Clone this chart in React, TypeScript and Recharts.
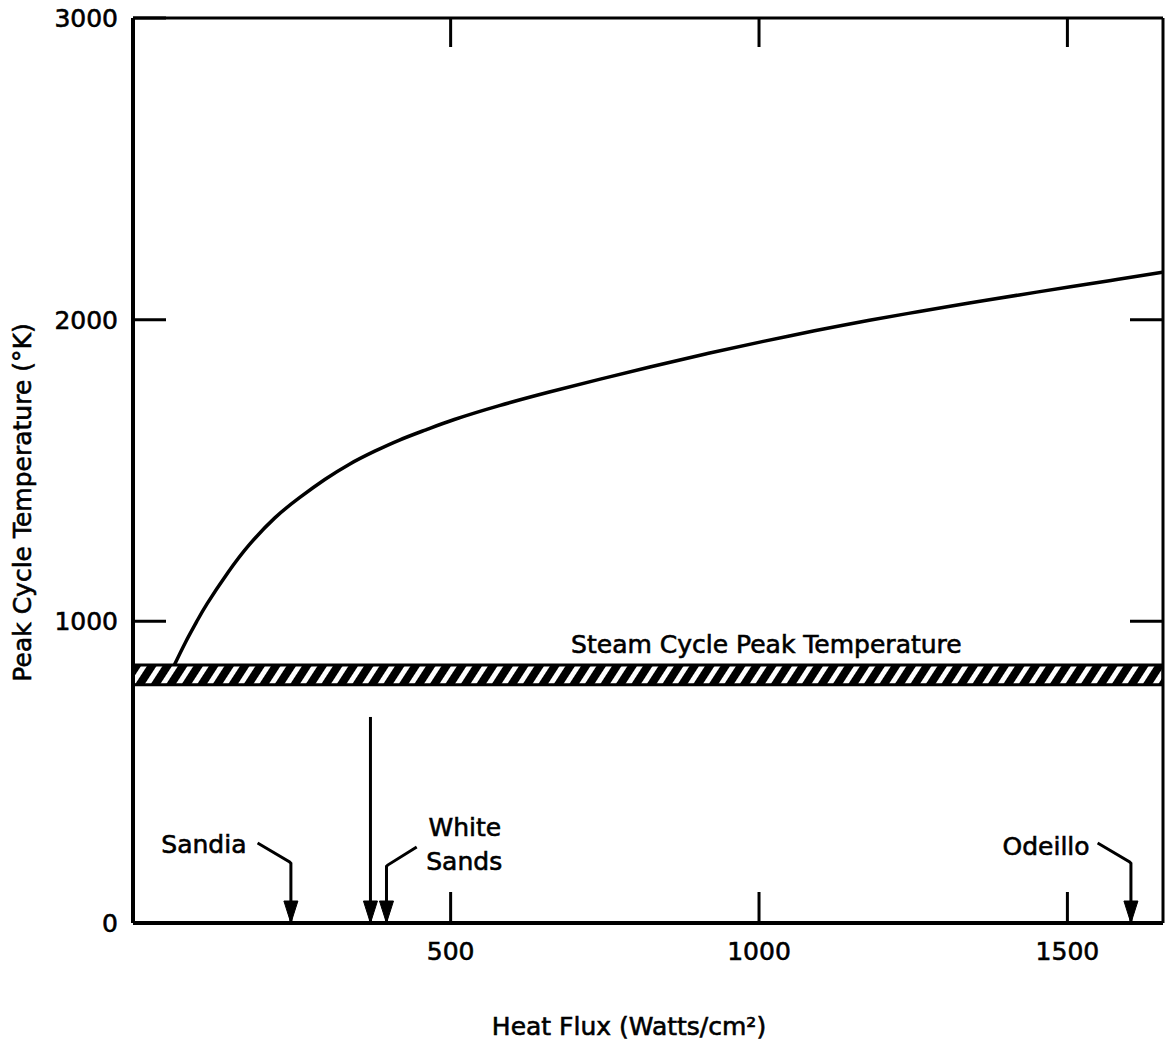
import React from 'react';
import { LineChart, Line, XAxis, YAxis, ReferenceArea, ReferenceDot, Label } from 'recharts';

// Peak cycle temperature curve
const curveFlux = [52, 70, 88, 105, 139, 174, 215, 255, 296, 336, 377, 417, 460, 506, 579, 660, 741, 823, 915, 1007, 1090, 1179, 1260, 1341, 1422, 1505, 1580, 1654];
const curveTemp = [855, 930, 998, 1058, 1162, 1255, 1343, 1410, 1470, 1521, 1564, 1601, 1635, 1669, 1715, 1760, 1802, 1843, 1887, 1928, 1963, 1998, 2027, 2055, 2082, 2109, 2133, 2157];

// Steam cycle peak temperature band
const steamLow = 790;
const steamHigh = 855;

// Axis ticks
const xTicks = [500, 1000, 1500];
const yTicks = [0, 1000, 2000, 3000];
const xDomain = [-15, 1655];
const yDomain = [0, 3000];

// Facility arrows: leader polylines ending at the arrow tip on the axis
const sandiaFlux = [187, 239, 241, 241];
const sandiaTemp = [265, 202, 198, 0];
const longFlux = [370, 370];
const longTemp = [683, 0];
const whiteSandsFlux = [445, 398, 396, 396];
const whiteSandsTemp = [252, 192, 188, 0];
const odeilloFlux = [1549, 1601, 1603, 1603];
const odeilloTemp = [265, 202, 198, 0];

// Annotation labels
const labelText = ['Sandia', 'White', 'Sands', 'Odeillo', 'Steam Cycle Peak Temperature'];
const labelFlux = [169, 523, 522, 1536, 1012];
const labelTemp = [259, 316, 205, 255, 922];
const labelAnchor = ['end', 'middle', 'middle', 'end', 'middle'];

const FONT = '"DejaVu Sans", Arial, sans-serif';
const TEXT_STROKE = 0.6;

const toPts = (xs: number[], ys: number[]) => xs.map((x, i) => ({ x, y: ys[i] }));

const curveData = toPts(curveFlux, curveTemp);
const arrows = [
  toPts(sandiaFlux, sandiaTemp),
  toPts(longFlux, longTemp),
  toPts(whiteSandsFlux, whiteSandsTemp),
  toPts(odeilloFlux, odeilloTemp),
];

const makeArrowDot = (lastIndex: number) => (props: any) => {
  const { cx, cy, index } = props;
  if (index !== lastIndex || cx == null || cy == null) return <g key={`d${index}`} />;
  return (
    <path
      key={`d${index}`}
      d={`M${cx},${cy} L${cx - 7},${cy - 22} L${cx + 7},${cy - 22} Z`}
      fill="#000"
      stroke="#000"
      strokeWidth={1}
    />
  );
};

const emptyTick = () => <g />;

const tickStyle = { fill: '#000', fontSize: 25, fontFamily: FONT, stroke: '#000', strokeWidth: TEXT_STROKE };

export default function App() {
  return (
    <div style={{ position: 'absolute', left: 0, top: 0, background: '#fff' }}>
      <LineChart width={1165} height={1043} margin={{ top: 0, right: 0, left: 0, bottom: 0 }}>
        <defs>
          <pattern id="hatch" width="13" height="13" patternUnits="userSpaceOnUse" patternTransform="rotate(33)">
            <rect x="0" y="0" width="13" height="13" fill="#000" />
            <rect x="0" y="0" width="5" height="13" fill="#fff" />
          </pattern>
        </defs>
        <XAxis
          xAxisId="b"
          type="number"
          dataKey="x"
          orientation="bottom"
          domain={xDomain}
          ticks={xTicks}
          allowDataOverflow
          height={120}
          tickSize={-31}
          tickMargin={50}
          axisLine={{ stroke: '#000', strokeWidth: 4 }}
          tickLine={{ stroke: '#000', strokeWidth: 3 }}
          tick={tickStyle}
        >
          <Label
            content={(p: any) => {
              const vb = p.viewBox || {};
              return (
                <text
                  x={vb.x + vb.width / 2 - 19}
                  y={vb.y + vb.height - 8}
                  textAnchor="middle"
                  fill="#000"
                  stroke="#000"
                  strokeWidth={TEXT_STROKE}
                  fontSize={25}
                  fontFamily={FONT}
                >
                  Heat Flux (Watts/cm²)
                </text>
              );
            }}
          />
        </XAxis>
        <XAxis
          xAxisId="t"
          type="number"
          dataKey="x"
          orientation="top"
          domain={xDomain}
          ticks={xTicks}
          allowDataOverflow
          height={18}
          tickSize={-29}
          axisLine={{ stroke: '#000', strokeWidth: 3 }}
          tickLine={{ stroke: '#000', strokeWidth: 3 }}
          tick={emptyTick}
        />
        <YAxis
          yAxisId="l"
          type="number"
          orientation="left"
          domain={yDomain}
          ticks={yTicks}
          allowDataOverflow
          width={133}
          tickSize={-33}
          tickMargin={48}
          axisLine={{ stroke: '#000', strokeWidth: 4 }}
          tickLine={{ stroke: '#000', strokeWidth: 3 }}
          tick={tickStyle}
        >
          <Label
            content={(p: any) => {
              const vb = p.viewBox || {};
              const cx = vb.x + 22;
              const cy = vb.y + vb.height / 2 + 32;
              return (
                <text
                  x={cx}
                  y={cy}
                  transform={`rotate(-90 ${cx} ${cy})`}
                  textAnchor="middle"
                  dominantBaseline="central"
                  fill="#000"
                  stroke="#000"
                  strokeWidth={TEXT_STROKE}
                  fontSize={25}
                  fontFamily={FONT}
                >
                  Peak Cycle Temperature (°K)
                </text>
              );
            }}
          />
        </YAxis>
        <YAxis
          yAxisId="r"
          type="number"
          orientation="right"
          domain={yDomain}
          ticks={[1000, 2000]}
          allowDataOverflow
          width={2}
          tickSize={-33}
          axisLine={{ stroke: '#000', strokeWidth: 3 }}
          tickLine={{ stroke: '#000', strokeWidth: 3 }}
          tick={emptyTick}
        />
        <ReferenceArea
          xAxisId="b"
          yAxisId="l"
          y1={steamLow}
          y2={steamHigh}
          fill="url(#hatch)"
          fillOpacity={1}
          stroke="#000"
          strokeWidth={3}
          ifOverflow="hidden"
        />
        <Line
          xAxisId="b"
          yAxisId="l"
          data={curveData}
          dataKey="y"
          type="natural"
          stroke="#000"
          strokeWidth={3.5}
          dot={false}
          activeDot={false}
          isAnimationActive={false}
        />
        {arrows.map((pts, i) => (
          <Line
            key={`arrow${i}`}
            xAxisId="b"
            yAxisId="l"
            data={pts}
            dataKey="y"
            type="linear"
            stroke="#000"
            strokeWidth={3}
            dot={makeArrowDot(pts.length - 1)}
            activeDot={false}
            isAnimationActive={false}
          />
        ))}
        {labelText.map((t, i) => (
          <ReferenceDot
            key={`lab${i}`}
            xAxisId="b"
            yAxisId="l"
            x={labelFlux[i]}
            y={labelTemp[i]}
            r={0}
            ifOverflow="visible"
            shape={(p: any) => (
              <text
                x={p.cx}
                y={p.cy}
                textAnchor={labelAnchor[i] as any}
                dominantBaseline="central"
                fill="#000"
                stroke="#000"
                strokeWidth={TEXT_STROKE}
                fontSize={25}
                fontFamily={FONT}
              >
                {t}
              </text>
            )}
          />
        ))}
      </LineChart>
    </div>
  );
}
